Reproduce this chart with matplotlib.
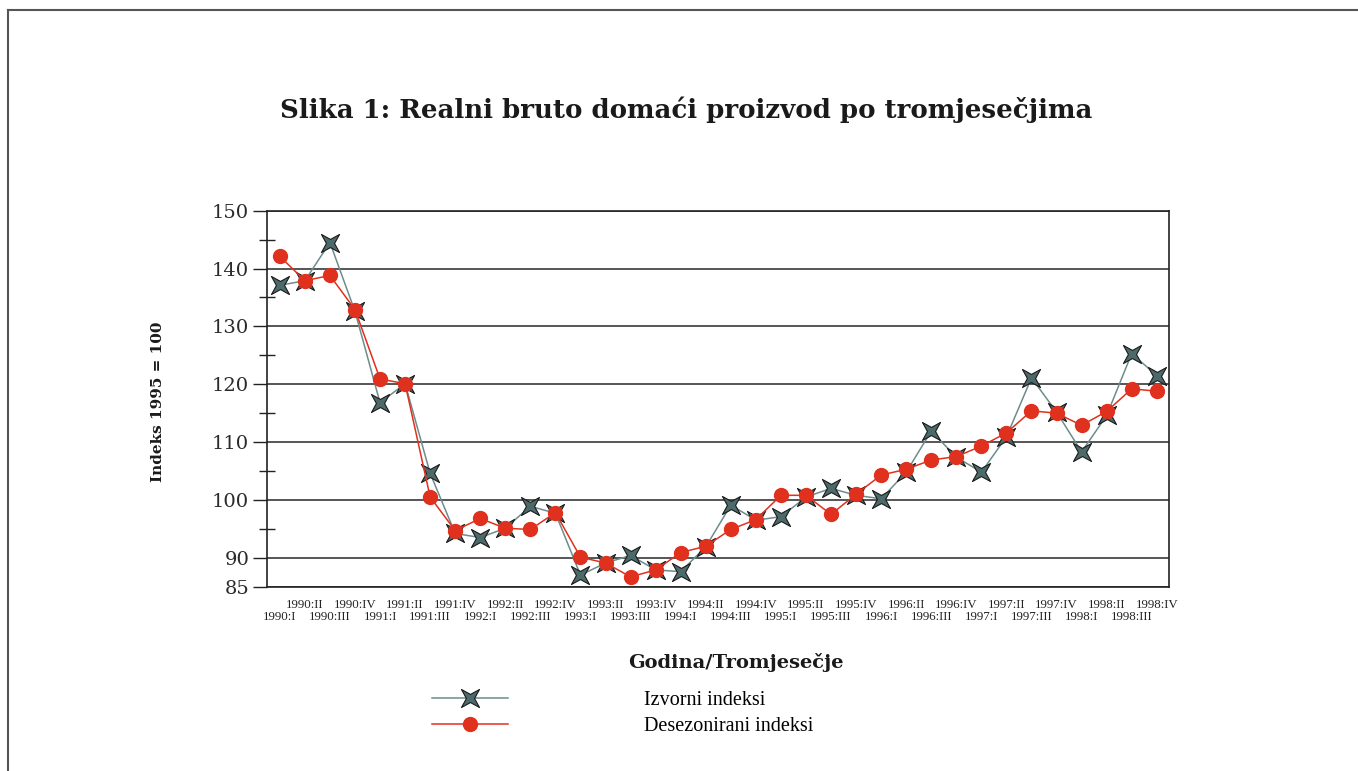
import numpy as np
import matplotlib
matplotlib.use('Agg')
import matplotlib.pyplot as plt
from matplotlib.path import Path
from matplotlib.lines import Line2D

# quarters 1990:I .. 1998:IV
years = list(range(1990, 1999))
quarters = ['I', 'II', 'III', 'IV']
labels = [f'{y}:{q}' for y in years for q in quarters]

# Izvorni indeksi (original series)
izvorni = [137.1, 137.9, 144.5, 132.6, 116.8, 120.1, 104.6, 94.2, 93.5, 95.1,
           98.9, 97.7, 87.0, 89.1, 90.4, 87.9, 87.6, 91.9, 99.1, 96.5,
           97.1, 100.5, 102.0, 100.8, 100.2, 104.8, 111.9, 107.4, 104.8, 110.9,
           121.1, 115.2, 108.3, 114.6, 125.3, 121.5]

# Desezonirani indeksi (seasonally adjusted)
desezonirani = [142.1, 137.9, 138.8, 132.9, 120.9, 120.1, 100.5, 94.7, 96.8, 95.1,
                94.9, 97.8, 90.1, 89.1, 86.7, 87.9, 90.9, 92.0, 94.9, 96.6,
                100.8, 100.8, 97.5, 101.0, 104.3, 105.3, 106.9, 107.5, 109.3, 111.6,
                115.4, 115.0, 112.9, 115.3, 119.2, 118.8]

yticks = [85, 90, 100, 110, 120, 130, 140, 150]
minor_ticks = [95, 105, 115, 125, 135, 145]

# 4-pointed star marker, points on the diagonals
star = Path([(1, 1), (0, 0.45), (-1, 1), (-0.45, 0), (-1, -1), (0, -0.45),
             (1, -1), (0.45, 0), (1, 1)],
            [Path.MOVETO] + [Path.LINETO] * 7 + [Path.CLOSEPOLY])

serif = ['Liberation Serif', 'DejaVu Serif']
wide = ['DejaVu Serif']
plt.rcParams['font.family'] = serif

W, H = 1358, 771
fig = plt.figure(figsize=(W / 100, H / 100), dpi=100)
ax = fig.add_axes([267.3 / W, 1 - 586.7 / H, 902 / W, 376 / H])

x = np.arange(len(labels))
ax.plot(x, izvorni, color='#6e8c8c', lw=1.1, marker=star, markersize=13,
        markerfacecolor='#4d6a6b', markeredgecolor='#1a1a1a', markeredgewidth=0.8,
        label='Izvorni indeksi', zorder=3)
ax.plot(x, desezonirani, color='#e0301e', lw=1.1, marker='o', markersize=10,
        markerfacecolor='#e0301e', markeredgecolor='#e0301e',
        label='Desezonirani indeksi', zorder=4)

ax.set_xlim(-0.5, len(labels) - 0.5)
ax.set_ylim(85, 150)

# y axis
ax.set_yticks(yticks)
ax.set_yticklabels([str(v) for v in yticks], fontsize=14, color='#2a2a2a',
                   family=wide)
ax.set_yticks(minor_ticks, minor=True)
ax.tick_params(axis='y', which='major', direction='out', length=10, width=1.0,
               color='#222222', pad=3)
ax.tick_params(axis='y', which='minor', direction='inout', length=12, width=1.0,
               color='#222222')
ax.yaxis.grid(True, which='major', color='#555555', lw=1.4)
ax.set_axisbelow(True)

# x axis, staggered labels
ax.set_xticks(x)
ax.set_xticklabels(labels, fontsize=9.3, color='#222222')
ax.tick_params(axis='x', length=0)
for i, t in enumerate(ax.xaxis.get_major_ticks()):
    t.set_pad(9 if i % 2 else 17.5)

for s in ax.spines.values():
    s.set_color('#222222')
    s.set_linewidth(1.2)

fig.text(686 / W, 1 - 110 / H, 'Slika 1: Realni bruto domaći proizvod po tromjesečjima',
         ha='center', va='center', fontsize=18.7, fontweight='bold', color='#1a1a1a',
         family=wide)
fig.text(158 / W, 1 - 402 / H, 'Indeks 1995 = 100', ha='center', va='center',
         rotation=90, fontsize=11, fontweight='bold', color='#1a1a1a', family=wide)
fig.text(736 / W, 1 - 662 / H, 'Godina/Tromjesečje', ha='center', va='center',
         fontsize=14, fontweight='bold', color='#1a1a1a', family=wide)

ax.legend(loc='upper left', bbox_to_anchor=(432 / W, 1 - 691 / H),
          bbox_transform=fig.transFigure, frameon=False, borderpad=0,
          borderaxespad=0, handlelength=3.75, handletextpad=6.8,
          labelspacing=0.33, fontsize=14.5)

# page frame (top and left edges)
fig.add_artist(Line2D([8 / W, 1], [1 - 10 / H, 1 - 10 / H], color='#555555', lw=1.5))
fig.add_artist(Line2D([8 / W, 8 / W], [0, 1 - 10 / H], color='#555555', lw=1.5))

fig.savefig('out.png', dpi=100)
